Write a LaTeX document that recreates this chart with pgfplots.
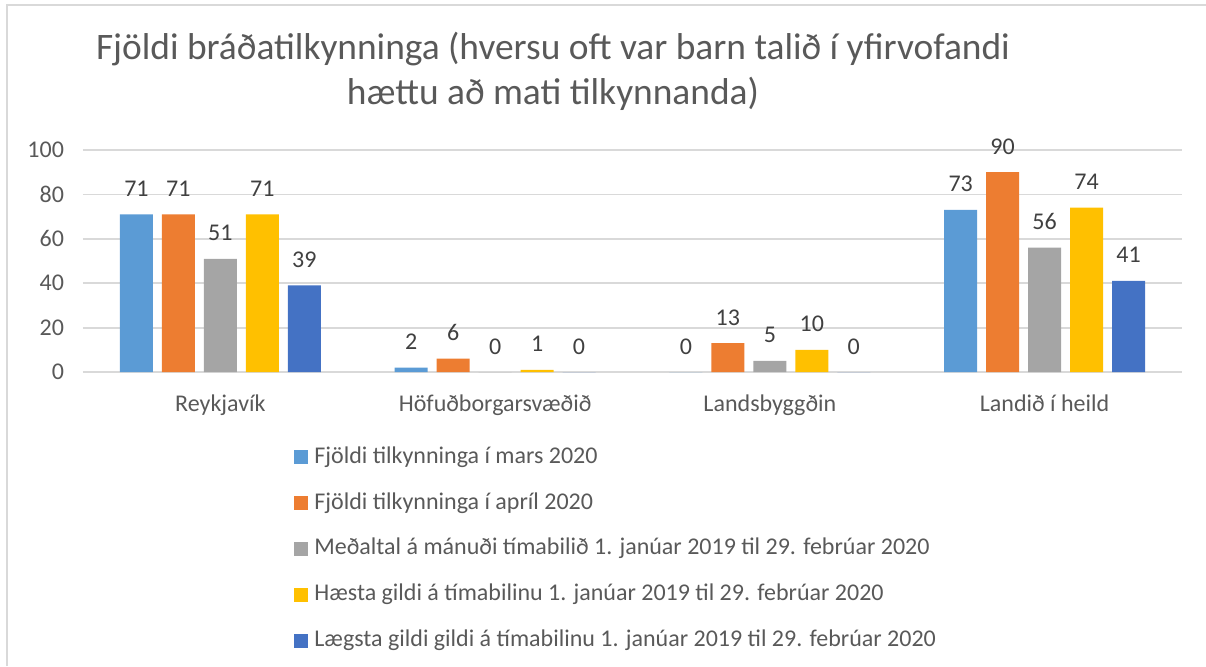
\documentclass[border=0pt]{standalone}
\usepackage{pgfplots}
\pgfplotsset{compat=1.18}
\usepackage{fontspec}
\setmainfont{Carlito}
\definecolor{s1}{HTML}{5B9BD5}
\definecolor{s2}{HTML}{ED7D31}
\definecolor{s3}{HTML}{A5A5A5}
\definecolor{s4}{HTML}{FFC000}
\definecolor{s5}{HTML}{4472C4}
\definecolor{gridc}{HTML}{D9D9D9}
\definecolor{labc}{HTML}{595959}
\definecolor{datac}{HTML}{404040}
\begin{document}
\begin{tikzpicture}
\path[use as bounding box] (0,0) rectangle (603pt,333pt);
\draw[gridc, line width=1pt] (3.5pt,0) -- (3.5pt,330.3pt) -- (603pt,330.3pt);
% title
\node[anchor=base, text=labc, font=\fontsize{18.7}{22}\selectfont] at (276.5pt,303pt)
  {Fjöldi bráðatilkynninga (hversu oft var barn talið í yfirvofandi};
\node[anchor=base, text=labc, font=\fontsize{18.7}{22}\selectfont] at (276.5pt,280.5pt)
  {hættu að mati tilkynnanda)};
\begin{axis}[
  at={(41.5pt,147pt)}, anchor=south west,
  scale only axis, width=549.5pt, height=111pt,
  xmin=-0.5, xmax=3.5, ymin=0, ymax=100,
  axis line style={draw=none},
  ymajorgrids, grid style={draw=gridc, line width=0.9pt},
  xtick={0,1,2,3},
  xticklabels={Reykjavík,Höfuðborgarsvæðið,Landsbyggðin,Landið í heild},
  ytick={0,20,...,100},
  major tick length=0pt,
  tick label style={font=\fontsize{12}{14}\selectfont, text=labc},
  /pgf/number format/assume math mode=true,
  yticklabel style={xshift=-6pt},
  xticklabel style={yshift=-8pt},
  ybar=4.5pt, bar width=0.12,
  nodes near coords,
  every node near coord/.append style={font=\fontsize{12}{14}\selectfont, text=datac, anchor=base, inner sep=0pt, yshift=9pt},
  legend style={at={(0.192,-0.306)}, anchor=north west, draw=none, fill=none,
    inner sep=0pt, row sep=5.9pt, font=\fontsize{12}{14}\selectfont, text=labc,
    nodes={inner sep=3pt, text height=8.5pt, text depth=2.5pt}},
  legend cell align=left,
  legend image code/.code={\fill[#1] (0pt,-3.5pt) rectangle (7pt,3.5pt);},
]
\addplot[fill=s1, draw=none] coordinates {(0,71) (1,2) (2,0) (3,73)};
\addlegendentry{Fjöldi tilkynninga í mars 2020}
\addplot[fill=s2, draw=none] coordinates {(0,71) (1,6) (2,13) (3,90)};
\addlegendentry{Fjöldi tilkynninga í apríl 2020}
\addplot[fill=s3, draw=none] coordinates {(0,51) (1,0) (2,5) (3,56)};
\addlegendentry{Meðaltal á mánuði tímabilið 1. janúar 2019 til 29. febrúar 2020}
\addplot[fill=s4, draw=none] coordinates {(0,71) (1,1) (2,10) (3,74)};
\addlegendentry{Hæsta gildi á tímabilinu 1. janúar 2019 til 29. febrúar 2020}
\addplot[fill=s5, draw=none] coordinates {(0,39) (1,0) (2,0) (3,41)};
\addlegendentry{Lægsta gildi gildi á tímabilinu 1. janúar 2019 til 29. febrúar 2020}
\end{axis}
\end{tikzpicture}
\end{document}
